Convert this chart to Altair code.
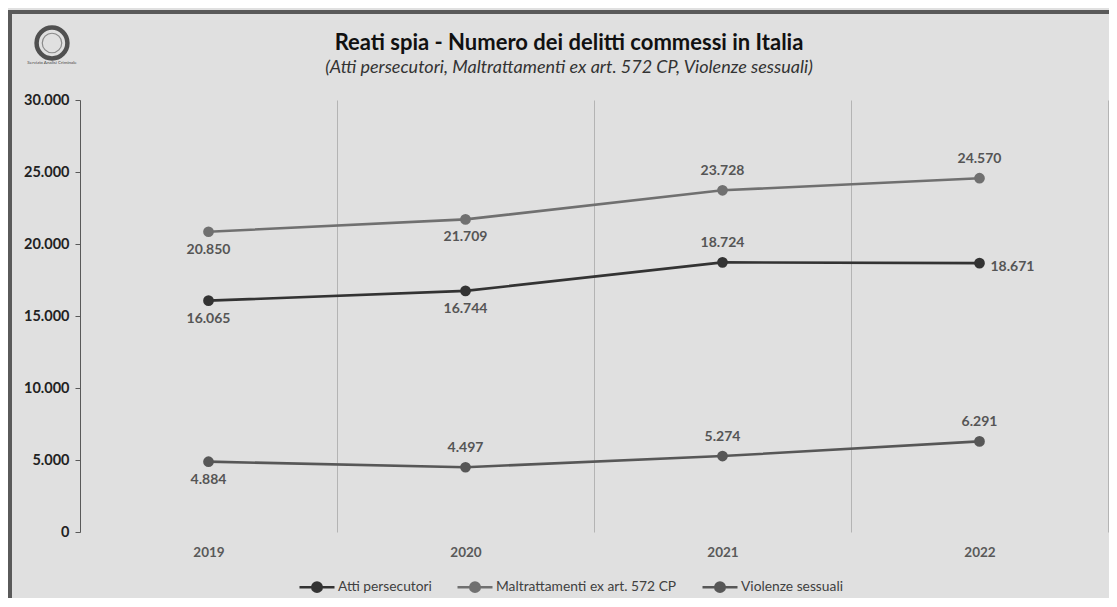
import altair as alt
import pandas as pd

YEARS = ["2019", "2020", "2021", "2022"]
SERIES = ["Atti persecutori", "Maltrattamenti ex art. 572 CP", "Violenze sessuali"]
ATTI = [16065, 16744, 18724, 18671]
MALTR = [20850, 21709, 23728, 24570]
VIOL = [4884, 4497, 5274, 6291]
Y_TICKS = [0, 5000, 10000, 15000, 20000, 25000, 30000]
# where each data label sits relative to its point
LABEL_POS = {
    "Atti persecutori": ["below", "below", "above", "right"],
    "Maltrattamenti ex art. 572 CP": ["below", "below", "above", "above"],
    "Violenze sessuali": ["below", "above", "above", "above"],
}
COLORS = ["#333333", "#707070", "#575757"]
TITLE = "Reati spia - Numero dei delitti commessi in Italia"
SUBTITLE = "(Atti persecutori, Maltrattamenti ex art. 572 CP, Violenze sessuali)"
LOGO_TEXT = "Servizio Analisi Criminale"

rows = []
for s, vals in zip(SERIES, [ATTI, MALTR, VIOL]):
    for yr, v, p in zip(YEARS, vals, LABEL_POS[s]):
        rows.append({"year": yr, "series": s, "value": v, "pos": p})
df = pd.DataFrame(rows)

W, H = 1028, 432
FONT = "Lato"
fmt_expr = "replace(format(datum.value, ','), ',', '.')"

x = alt.X(
    "year:N",
    bandPosition=0.5,
    scale=alt.Scale(type="band", paddingInner=0, paddingOuter=0),
    axis=alt.Axis(
        title=None, labelAngle=0, domain=False, ticks=False, grid=True,
        tickBand="extent", gridColor="#b4b4b4", gridWidth=1,
        labelFont=FONT, labelFontWeight="bold", labelFontSize=13.5,
        labelColor="#595959", labelPadding=13,
    ),
)
y = alt.Y(
    "value:Q",
    scale=alt.Scale(domain=[0, 30000], nice=False),
    axis=alt.Axis(
        title=None, values=Y_TICKS, grid=False, domainColor="#595959",
        tickColor="#595959", tickSize=5, labelFont=FONT, labelFontWeight="bold",
        labelFontSize=14.5, labelColor="#222222", labelPadding=6, labelExpr=fmt_expr,
    ),
)
LEG_PATH = "M-1,0L1,0M0.27,0A0.27,0.27,0,1,1,-0.27,0A0.27,0.27,0,1,1,0.27,0Z"
color = alt.Color(
    "series:N",
    scale=alt.Scale(domain=SERIES, range=COLORS),
    legend=alt.Legend(
        title=None, orient="none", legendX=218, legendY=468, direction="horizontal",
        symbolType=LEG_PATH, symbolSize=1225, symbolStrokeWidth=2.5,
        labelFont=FONT, labelFontSize=13.8, labelColor="#404040", labelOffset=2,
        labelLimit=0, columnPadding=20, padding=0,
    ),
)

base = alt.Chart(df)
lines = base.mark_line(strokeWidth=2.6).encode(x=x, y=y, color=color)
points = base.mark_point(filled=True, size=115, opacity=1).encode(x=x, y=y, color=color)

lab_common = dict(font=FONT, fontWeight="bold", fontSize=14, color="#555555")
lab = base.transform_calculate(label=fmt_expr)
below = lab.transform_filter("datum.pos == 'below'").mark_text(
    dy=18, baseline="middle", align="center", **lab_common
).encode(x=x, y=y, text="label:N")
above = lab.transform_filter("datum.pos == 'above'").mark_text(
    dy=-19, baseline="middle", align="center", **lab_common
).encode(x=x, y=y, text="label:N")
right = lab.transform_filter("datum.pos == 'right'").mark_text(
    dx=11, dy=4, baseline="middle", align="left", **lab_common
).encode(x=x, y=y, text="label:N")

one = alt.Data(values=[{"a": 1}])
frame = alt.Chart(one).mark_rect(filled=False, stroke="#5a5a5a", strokeWidth=4).encode(
    x=alt.value(-70), x2=alt.value(1200), y=alt.value(-88), y2=alt.value(700)
)
title = alt.Chart(alt.Data(values=[{"t": TITLE}])).mark_text(
    font=FONT, fontWeight="bold", fontSize=22, color="#111111", align="center", baseline="alphabetic"
).encode(x=alt.value(489), y=alt.value(-50), text="t:N")
subtitle = alt.Chart(alt.Data(values=[{"t": SUBTITLE}])).mark_text(
    font=FONT, fontStyle="italic", fontSize=18, color="#333333", align="center", baseline="alphabetic"
).encode(x=alt.value(489), y=alt.value(-27), text="t:N")
logo_outer = alt.Chart(one).mark_point(
    shape="circle", size=950, filled=False, stroke="#505050", strokeWidth=4.5, opacity=1
).encode(x=alt.value(-28), y=alt.value(-57))
logo_inner = alt.Chart(one).mark_point(
    shape="circle", size=380, filled=False, stroke="#8a8a8a", strokeWidth=1.2, opacity=1
).encode(x=alt.value(-28), y=alt.value(-57))
logo_txt = alt.Chart(alt.Data(values=[{"t": LOGO_TEXT}])).mark_text(
    font=FONT, fontSize=4.5, color="#444444", align="center", baseline="middle"
).encode(x=alt.value(-28), y=alt.value(-37), text="t:N")

chart = alt.layer(
    frame, logo_outer, logo_inner, logo_txt, title, subtitle,
    lines, points, below, above, right,
).properties(
    width=W, height=H,
    autosize=alt.AutoSizeParams(type="none"),
    padding={"left": 72, "top": 92, "right": 1, "bottom": 66},
    background="#e0e0e0",
).configure_view(stroke=None)

chart.save("out.html", embed_options={"renderer": "svg", "actions": False})
